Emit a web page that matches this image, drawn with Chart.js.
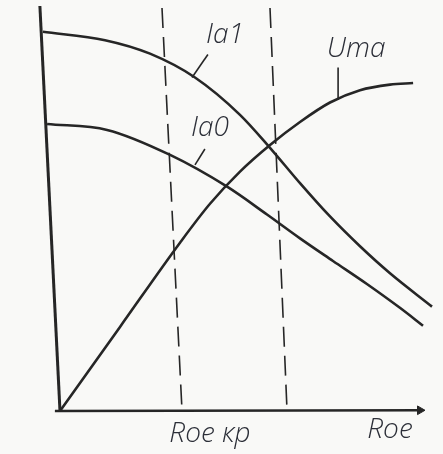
<!DOCTYPE html>
<html>
<head>
<meta charset="utf-8">
<script src="https://cdn.jsdelivr.net/npm/chart.js@4/dist/chart.umd.min.js"></script>
<style>
  html, body { margin: 0; padding: 0; background: #f9f9f7; }
  #wrap { width: 443px; height: 454px; }
</style>
</head>
<body>
<div id="wrap"><canvas id="sketch" width="443" height="454"></canvas></div>
<script>
// R_oe on x (arbitrary units), current / voltage on y (arbitrary units)
const roeIa1 = [-0.57, 1.5, 3.0, 4.5, 6.0, 7.0, 8.0, 9.0, 10.0, 11.0, 12.4];
const ia1    = [9.55, 9.34, 9.0, 8.4, 7.46, 6.63, 5.74, 4.9, 4.15, 3.47, 2.63];

const roeIa0 = [-0.43, 1.57, 3.67, 5.57, 6.9, 8.0, 9.1, 10.23, 11.33, 12.1];
const ia0    = [7.23, 7.08, 6.45, 5.65, 4.95, 4.35, 3.78, 3.2, 2.6, 2.15];

const roeUma = [0, 2.0, 4.0, 5.0, 6.0, 7.0, 8.0, 9.0, 10.0, 11.0, 11.77];
const uma    = [0, 2.12, 4.24, 5.22, 6.03, 6.7, 7.28, 7.77, 8.08, 8.22, 8.26];

// critical resistance and the second marker, drawn as dashed verticals
const roeKrLine  = [[3.4, 10.15], [4.07, -0.03]];
const roeOptLine = [[7.0, 10.15], [7.57, -0.03]];

// hand-drawn axes
const yAxisLine = [[-0.67, 10.2], [0, 0]];
const xAxisLine = [[-0.17, 0], [12.0, 0.02]];

// leader strokes from the curve names down to the curves
const leaderIa1 = [[4.93, 8.98], [4.4, 8.4]];
const leaderIa0 = [[4.83, 6.6], [4.5, 6.2]];
const leaderUma = [[9.27, 8.65], [9.27, 7.83]];

const toPts = (xs, ys) => xs.map((x, i) => ({ x: x, y: ys[i] }));
const pairPts = arr => arr.map(p => ({ x: p[0], y: p[1] }));

const ink = '#262626';

function curve(data, width) {
  return {
    data: data,
    borderColor: ink,
    borderWidth: width,
    pointRadius: 0,
    cubicInterpolationMode: 'monotone',
    fill: false,
    clip: false
  };
}

function stroke(data, width, dash) {
  return {
    data: data,
    borderColor: ink,
    borderWidth: width,
    borderDash: dash || [],
    pointRadius: 0,
    tension: 0,
    fill: false,
    clip: false
  };
}

// text next to the leaders and under the x axis
const notes = [
  { text: 'Ia1',    at: leaderIa1[0], dx: 0.57, dy: 0.5 },
  { text: 'Ia0',    at: leaderIa0[0], dx: 0.17, dy: 0.52 },
  { text: 'Uma',    at: leaderUma[0], dx: 0.6,  dy: 0.47 },
  { text: 'Roe кр', at: roeKrLine[1], dx: 0.93, dy: -0.55 },
  { text: 'Roe',    at: [11.0, 0],    dx: 0,    dy: -0.47 }
];

const notesPlugin = {
  id: 'notes',
  afterDatasetsDraw(chart) {
    const { ctx, scales } = chart;
    ctx.save();
    ctx.fillStyle = '#2c2f38';
    ctx.font = 'italic 300 28px "Open Sans", "DejaVu Sans", sans-serif';
    ctx.textAlign = 'center';
    ctx.textBaseline = 'middle';
    notes.forEach(n => {
      const px = scales.x.getPixelForValue(n.at[0] + n.dx);
      const py = scales.y.getPixelForValue(n.at[1] + n.dy);
      ctx.fillText(n.text, px, py);
    });
    ctx.restore();
  }
};

const arrowHead = {
  data: [{ x: 12.0, y: 0.02 }],
  showLine: false,
  pointStyle: 'triangle',
  rotation: 90,
  pointRadius: 5,
  backgroundColor: ink,
  borderColor: ink,
  borderWidth: 1,
  clip: false
};

new Chart(document.getElementById('sketch'), {
  type: 'line',
  data: {
    datasets: [
      stroke(pairPts(yAxisLine), 3),
      stroke(pairPts(xAxisLine), 2.5),
      arrowHead,
      stroke(pairPts(roeKrLine), 1.6, [20, 9]),
      stroke(pairPts(roeOptLine), 1.6, [20, 9]),
      curve(toPts(roeIa1, ia1), 2.6),
      curve(toPts(roeIa0, ia0), 2.6),
      curve(toPts(roeUma, uma), 2.6),
      stroke(pairPts(leaderIa1), 1.6),
      stroke(pairPts(leaderIa0), 1.6),
      stroke(pairPts(leaderUma), 1.6)
    ]
  },
  options: {
    responsive: false,
    animation: false,
    layout: { padding: { left: 36, right: 11, top: 3, bottom: 33 } },
    scales: {
      x: { type: 'linear', min: -0.8, max: 12.4, display: false },
      y: { type: 'linear', min: -0.25, max: 10.2, display: false }
    },
    plugins: {
      legend: { display: false },
      tooltip: { enabled: false }
    }
  },
  plugins: [notesPlugin]
});
</script>
</body>
</html>
